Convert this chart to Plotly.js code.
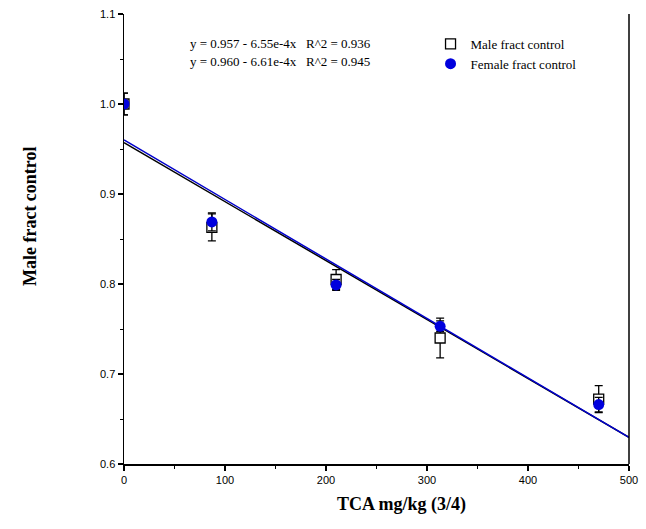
<!DOCTYPE html>
<html>
<head>
<meta charset="utf-8">
<script src="https://cdn.plot.ly/plotly-3.0.1.min.js"></script>
<style>html,body{margin:0;padding:0;background:#fff;}#chart{width:646px;height:529px;}</style>
</head>
<body>
<div id="chart"></div>
<script>
// Data
var doses = [0, 87, 210, 313, 470];
var maleValues = [1.000, 0.863, 0.805, 0.740, 0.672];
var maleErrors = [0.012, 0.015, 0.011, 0.022, 0.015];
var femaleValues = [1.000, 0.869, 0.799, 0.753, 0.666];
var femaleErrors = [0.012, 0.010, 0.006, 0.006, 0.008];
// Regression fits shown in the chart: [intercept, slope]
var maleFit = [0.957, -6.55e-4];
var femaleFit = [0.960, -6.61e-4];
var fitX = [0, 500];
var eqLabels = ["y = 0.957 - 6.55e-4x   R^2 = 0.936", "y = 0.960 - 6.61e-4x   R^2 = 0.945"];
var seriesNames = ["Male fract control", "Female fract control"];
var xTitle = "TCA mg/kg (3/4)";
var yTitle = "Male fract control";

function fitLine(c) { return fitX.map(function (x) { return c[0] + c[1] * x; }); }

var traces = [
  {x: fitX, y: fitLine(maleFit), mode: 'lines', line: {color: '#000000', width: 1.5}, showlegend: false, hoverinfo: 'skip'},
  {x: fitX, y: fitLine(femaleFit), mode: 'lines', line: {color: '#0000cc', width: 1.5}, showlegend: false, hoverinfo: 'skip'},
  {x: doses, y: maleValues, name: seriesNames[0], mode: 'markers', type: 'scatter',
   marker: {symbol: 'square', size: 10, color: '#ffffff', line: {color: '#000000', width: 1.3}},
   error_y: {type: 'data', array: maleErrors, visible: true, color: '#000000', thickness: 1.3, width: 4}},
  {x: doses, y: femaleValues, name: seriesNames[1], mode: 'markers', type: 'scatter',
   marker: {symbol: 'circle', size: 11, color: '#0000dd', line: {width: 0}},
   error_y: {type: 'data', array: femaleErrors, visible: true, color: '#000000', thickness: 1.3, width: 4}}
];

var tickFont = {family: 'Liberation Sans, Arial, sans-serif', size: 11, color: '#000'};
var layout = {
  width: 646, height: 529,
  margin: {l: 124, r: 17, t: 14, b: 65},
  paper_bgcolor: '#ffffff', plot_bgcolor: '#ffffff',
  showlegend: true,
  legend: {x: 0.607, y: 0.967, xanchor: 'left', yanchor: 'top', bgcolor: 'rgba(0,0,0,0)',
           font: {family: 'Liberation Serif, Times New Roman, serif', size: 13, color: '#000'},
           tracegroupgap: 0, itemwidth: 30},
  xaxis: {range: [0, 500], dtick: 100, tick0: 0, showgrid: false, zeroline: false,
          showline: true, linecolor: '#000', linewidth: 1.5, ticks: 'outside', ticklen: 5, tickwidth: 1.2, tickcolor: '#000',
          minor: {dtick: 50, ticks: 'outside', ticklen: 3, tickwidth: 1, tickcolor: '#000', showgrid: false},
          tickfont: tickFont, title: {text: ''}},
  yaxis: {range: [0.6, 1.1], dtick: 0.1, tick0: 0.6, tickformat: '.1f', showgrid: false, zeroline: false,
          showline: true, linecolor: '#000', linewidth: 1.5, ticks: 'outside', ticklen: 5, tickwidth: 1.2, tickcolor: '#000',
          minor: {dtick: 0.05, ticks: 'outside', ticklen: 3, tickwidth: 1, tickcolor: '#000', showgrid: false},
          tickfont: tickFont, title: {text: ''}},
  shapes: [{type: 'line', xref: 'paper', yref: 'paper', x0: 1, x1: 1, y0: 0, y1: 1, line: {color: '#000', width: 1.5}}],
  annotations: [
    {text: eqLabels[0], xref: 'paper', yref: 'paper', x: 0.127, y: 0.935, xanchor: 'left', yanchor: 'middle', showarrow: false,
     font: {family: 'Liberation Serif, Times New Roman, serif', size: 13, color: '#000'}},
    {text: eqLabels[1], xref: 'paper', yref: 'paper', x: 0.127, y: 0.895, xanchor: 'left', yanchor: 'middle', showarrow: false,
     font: {family: 'Liberation Serif, Times New Roman, serif', size: 13, color: '#000'}},
    {text: '<b>' + xTitle + '</b>', xref: 'paper', yref: 'paper', x: 0.549, y: -0.063, xanchor: 'center', yanchor: 'top', showarrow: false,
     font: {family: 'Liberation Serif, Times New Roman, serif', size: 18, color: '#000'}},
    {text: '<b>' + yTitle + '</b>', xref: 'paper', yref: 'paper', x: -0.185, y: 0.55, xanchor: 'center', yanchor: 'middle', textangle: -90, showarrow: false,
     font: {family: 'Liberation Serif, Times New Roman, serif', size: 18, color: '#000'}}
  ]
};

Plotly.newPlot('chart', traces, layout, {displayModeBar: false, staticPlot: true});
</script>
</body>
</html>
